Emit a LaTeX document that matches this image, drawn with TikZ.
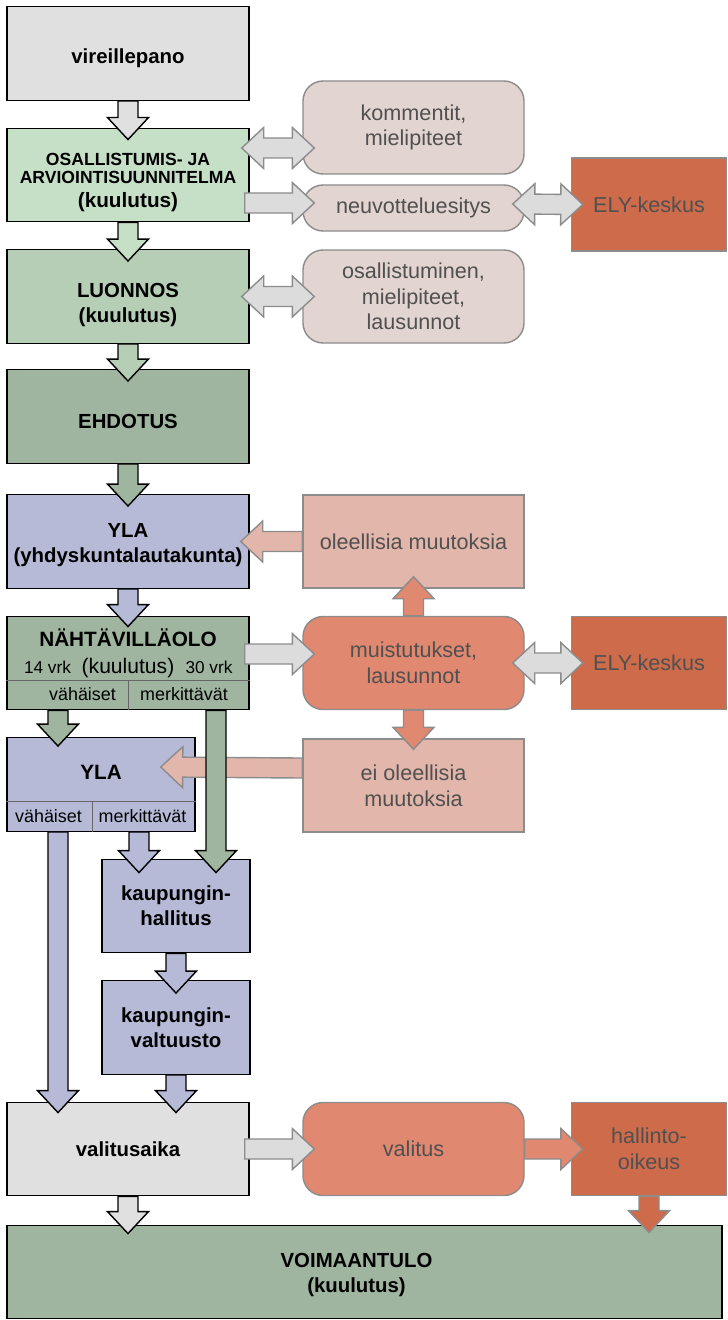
\documentclass[tikz,border=0pt]{standalone}
\usepackage{fontspec}
\setmainfont{Liberation Sans}
\usetikzlibrary{positioning,calc}

\definecolor{boxgray}{RGB}{224,224,224}
\definecolor{oasgreen}{RGB}{198,224,200}
\definecolor{luongreen}{RGB}{181,206,181}
\definecolor{darkgreen}{RGB}{159,181,160}
\definecolor{lavender}{RGB}{182,186,214}
\definecolor{rosegray}{RGB}{226,212,208}
\definecolor{salmonlight}{RGB}{226,182,170}
\definecolor{salmon}{RGB}{224,136,112}
\definecolor{rust}{RGB}{205,107,74}
\definecolor{edgegray}{RGB}{140,140,140}
\definecolor{arrowgray}{RGB}{220,220,220}
\definecolor{textgray}{RGB}{80,80,80}

\begin{document}
\begin{tikzpicture}[x=0.2mm,y=-0.2mm,node distance=24.3mm,on grid,
    phase/.style={draw=black,line width=0.8pt,minimum width=48.4mm,minimum height=18.7mm,inner sep=0pt,align=center,font=\fontsize{11.6}{14.2}\selectfont\bfseries},
    talk/.style={draw=edgegray,line width=0.8pt,rounded corners=4mm,minimum width=44.2mm,minimum height=18.6mm,inner sep=0pt,align=center,text=textgray,font=\fontsize{12.3}{14.6}\selectfont},
    change/.style={talk,sharp corners},
    office/.style={draw=edgegray,line width=0.8pt,fill=rust,minimum width=31mm,minimum height=18.6mm,inner sep=0pt,align=center,text=textgray,font=\fontsize{12.3}{14.6}\selectfont},
    small/.style={anchor=base,inner sep=0pt,font=\fontsize{10.2}{12}\selectfont},
    fat/.style={to path={let \p1=(\tikztostart),\p2=(\tikztotarget),\n1={atan2(\y2-\y1,\x2-\x1)} in
      ($(\p1)+(\n1+90:2mm)$) -- ($(\p2)+(\n1:-4.4mm)+(\n1+90:2mm)$) -- ($(\p2)+(\n1:-4.4mm)+(\n1+90:4.1mm)$) -- (\p2)
      -- ($(\p2)+(\n1:-4.4mm)+(\n1-90:4.1mm)$) -- ($(\p2)+(\n1:-4.4mm)+(\n1-90:2mm)$) -- ($(\p1)+(\n1-90:2mm)$) -- cycle}},
    twofat/.style={to path={let \p1=(\tikztostart),\p2=(\tikztotarget),\n1={atan2(\y2-\y1,\x2-\x1)} in
      (\p1) -- ($(\p1)+(\n1:4.4mm)+(\n1+90:4.1mm)$) -- ($(\p1)+(\n1:4.4mm)+(\n1+90:2mm)$)
      -- ($(\p2)+(\n1:-4.4mm)+(\n1+90:2mm)$) -- ($(\p2)+(\n1:-4.4mm)+(\n1+90:4.1mm)$) -- (\p2)
      -- ($(\p2)+(\n1:-4.4mm)+(\n1-90:4.1mm)$) -- ($(\p2)+(\n1:-4.4mm)+(\n1-90:2mm)$)
      -- ($(\p1)+(\n1:4.4mm)+(\n1-90:2mm)$) -- ($(\p1)+(\n1:4.4mm)+(\n1-90:4.1mm)$) -- cycle}},
    flow/.style={fat,draw=black,line width=0.8pt},
    feed/.style={fat,draw=edgegray,line width=0.8pt},
    exchange/.style={twofat,draw=edgegray,line width=0.8pt,fill=arrowgray}]
\useasboundingbox (0,0) rectangle (727,1320);

% main column
\node[phase,fill=boxgray] (vir) at (128,53.5) {\rule{0pt}{14pt}vireillepano};
\node[phase,fill=oasgreen,font=\fontsize{10}{10.2}\selectfont\bfseries] (oas) [below=of vir]
  {\rule{0pt}{16pt}OSALLISTUMIS- JA\\ARVIOINTISUUNNITELMA\\[3.4pt]\fontsize{11.8}{14}\selectfont(kuulutus)};
\node[phase,fill=luongreen] (luon) [below=of oas] {\rule{0pt}{18.3pt}LUONNOS\\(kuulutus)};
\node[phase,fill=darkgreen] (ehd) [below=24mm of luon] {\rule{0pt}{13.8pt}EHDOTUS};
\node[phase,fill=lavender] (yla) [below=25mm of ehd] {\rule{0pt}{11.6pt}YLA\\(yhdyskuntalautakunta)};
\node[phase,fill=darkgreen] (nah) [below=of yla] {};
\node[phase,fill=lavender,minimum width=37.6mm] (yla2) [below=of nah,xshift=-5.4mm] {};
\node[phase,fill=lavender,minimum width=29.6mm] (khall) [below=of yla2,xshift=15mm] {kaupungin-\\hallitus};
\node[phase,fill=lavender,minimum width=29.6mm] (kvalt) [below=of khall] {kaupungin-\\valtuusto};
\node[phase,fill=boxgray] (vali) [below=of kvalt,xshift=-9.6mm] {valitusaika};
\node[phase,fill=darkgreen,minimum width=143mm] (voim) [below=24.6mm of vali,xshift=47.3mm]
  {\rule{0pt}{11.4pt}VOIMAANTULO\hspace*{3.2mm}\\(kuulutus)\hspace*{3.2mm}};

% split boxes
\draw[line width=0.5pt,black!60] ([yshift=6mm]nah.south west) -- ([yshift=6mm]nah.south east)
  ([yshift=6mm]nah.south) -- (nah.south);
\node[small,font=\fontsize{11.8}{14}\selectfont\bfseries] (nahtitle) at ([yshift=-6.2mm]nah.north) {NÄHTÄVILLÄOLO};
\node[small,font=\fontsize{9.8}{12}\selectfont] (nah14) at ([xshift=-16.1mm,yshift=-11.6mm]nah.north) {14 vrk};
\node[small,font=\fontsize{12}{14}\selectfont] (nahkuul) at ([yshift=-11.6mm]nah.north) {(kuulutus)};
\node[small,font=\fontsize{9.8}{12}\selectfont] (nah30) at ([xshift=16.2mm,yshift=-11.6mm]nah.north) {30 vrk};
\node[small] (nahvah) at ([xshift=-9.1mm,yshift=-17mm]nah.north) {vähäiset};
\node[small] (nahmerk) at ([xshift=11.2mm,yshift=-17mm]nah.north) {merkittävät};

\draw[line width=0.5pt,black!60] ([yshift=6.2mm]yla2.south west) -- ([yshift=6.2mm]yla2.south east)
  ([xshift=-1.8mm,yshift=6.2mm]yla2.south) -- ([xshift=-1.8mm]yla2.south);
\node[small,font=\fontsize{11.8}{14}\selectfont\bfseries] (ylatitle) at ([yshift=-8.4mm]yla2.north) {YLA};
\node[small] (ylavah) at ([xshift=-10.5mm,yshift=-17mm]yla2.north) {vähäiset};
\node[small] (ylamerk) at ([xshift=8.3mm,yshift=-17mm]yla2.north) {merkittävät};

% side column
\node[talk,fill=rosegray] (kom) [right=57.1mm of oas,yshift=9.5mm] {kommentit,\\mielipiteet};
\node[talk,fill=rosegray,minimum height=9.2mm] (neuv) [right=57.1mm of oas,yshift=-6.6mm] {neuvotteluesitys};
\node[office] (ely) [right=47.1mm of neuv,yshift=0.7mm] {ELY-keskus};
\node[talk,fill=rosegray] (osal) [right=57.1mm of luon] {osallistuminen,\\mielipiteet,\\lausunnot};
\node[change,fill=salmonlight] (ole) [right=57.1mm of yla] {oleellisia muutoksia};
\node[talk,fill=salmon] (muist) [right=57.1mm of nah] {muistutukset,\\lausunnot};
\node[office] (ely2) [right=47.1mm of muist] {ELY-keskus};
\node[change,fill=salmonlight] (eiol) [below=24.5mm of muist] {ei oleellisia\\muutoksia};
\node[talk,fill=salmon] (valitus) [right=57.1mm of vali] {valitus};
\node[office] (hall) [right=47.1mm of valitus] {hallinto-\\oikeus};

% side arrows
\path
  ([xshift=-1.6mm,yshift=5.4mm]oas.east) edge[exchange] ([xshift=2.4mm,yshift=-4.1mm]kom.west)
  ([xshift=-1mm,yshift=-5.6mm]oas.east) edge[feed,fill=arrowgray] ([xshift=2.4mm,yshift=1mm]neuv.west)
  ([xshift=-2.4mm,yshift=0.8mm]neuv.east) edge[exchange] ([xshift=2.4mm]ely.west)
  ([xshift=-1.6mm]luon.east) edge[exchange] ([xshift=2.4mm]osal.west)
  (ole.west) edge[feed,fill=salmonlight] ([xshift=-1.8mm]yla.east)
  (muist.north) edge[feed,fill=salmon] ([yshift=2.4mm]ole.south)
  (muist.south) edge[feed,fill=salmon] ([yshift=-2.2mm]eiol.north)
  ([xshift=-1mm,yshift=1.8mm]nah.east) edge[feed,fill=arrowgray] ([xshift=2.4mm,yshift=1.8mm]muist.west)
  ([xshift=-2.4mm]muist.east) edge[exchange] ([xshift=2.4mm]ely2.west)
  ([yshift=3.5mm]eiol.west) edge[feed,fill=salmonlight] ([xshift=-7mm,yshift=3.5mm]yla2.east)
  ([xshift=-1mm]vali.east) edge[feed,fill=arrowgray] ([xshift=2.4mm]valitus.west)
  (valitus.east) edge[feed,fill=salmon] ([xshift=2.4mm]hall.west)
  (hall.south) edge[feed,fill=rust] ([xshift=56.9mm,yshift=-1.6mm]voim.north);

% main arrows
\path
  (vir.south) edge[flow,fill=boxgray] ([yshift=-2.4mm]oas.north)
  (oas.south) edge[flow,fill=oasgreen] ([yshift=-2.4mm]luon.north)
  (luon.south) edge[flow,fill=luongreen] ([yshift=-2.4mm]ehd.north)
  (ehd.south) edge[flow,fill=darkgreen] ([yshift=-2.4mm]yla.north)
  (yla.south) edge[flow,fill=lavender] ([yshift=-2.2mm]nah.north)
  ([xshift=-14mm]nah.south) edge[flow,fill=darkgreen] ([xshift=-8.6mm,yshift=-1.8mm]yla2.north)
  ([xshift=17.6mm]nah.south) edge[flow,fill=darkgreen] ([xshift=8mm,yshift=-2.8mm]khall.north)
  ([xshift=-8.6mm]yla2.south) edge[flow,fill=lavender] ([xshift=-14mm,yshift=-2.2mm]vali.north)
  ([xshift=7.6mm]yla2.south) edge[flow,fill=lavender] ([xshift=-7.4mm,yshift=-2.8mm]khall.north)
  (khall.south) edge[flow,fill=lavender] ([yshift=-2.6mm]kvalt.north)
  (kvalt.south) edge[flow,fill=lavender] ([xshift=9.6mm,yshift=-2.2mm]vali.north)
  (vali.south) edge[flow,fill=boxgray] ([xshift=-47.3mm,yshift=-1.8mm]voim.north);
\end{tikzpicture}
\end{document}
